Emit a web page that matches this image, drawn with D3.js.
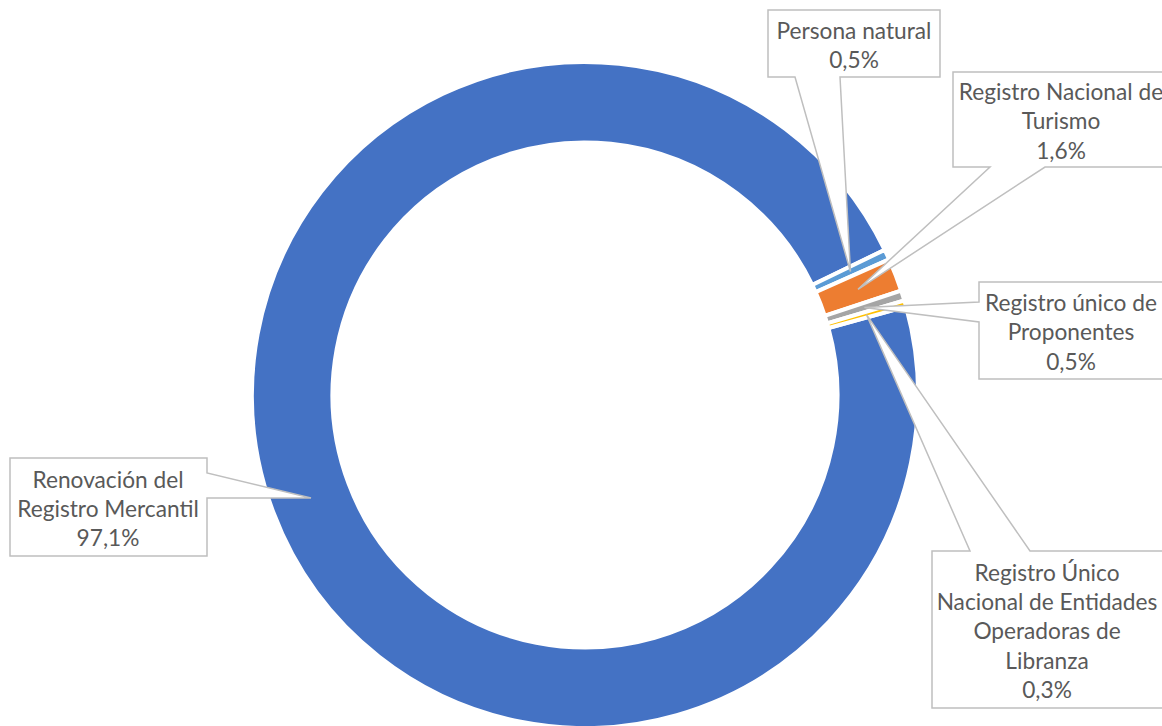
<!DOCTYPE html>
<html>
<head>
<meta charset="utf-8">
<script src="https://cdn.jsdelivr.net/npm/d3@7"></script>
<style>
  html, body { margin: 0; padding: 0; background: #fff; }
  svg { display: block; }
</style>
</head>
<body>
<svg id="chart" width="1162" height="726"></svg>
<script>
// ---- data ----
const categories = [
  "Renovación del Registro Mercantil",
  "Persona natural",
  "Registro Nacional de Turismo",
  "Registro único de Proponentes",
  "Registro Único Nacional de Entidades Operadoras de Libranza"
];
const values = [97.1, 0.5, 1.6, 0.5, 0.3];
const labelLines = [
  ["Renovación del", "Registro Mercantil"],
  ["Persona natural"],
  ["Registro Nacional de", "Turismo"],
  ["Registro único de", "Proponentes"],
  ["Registro Único", "Nacional de Entidades", "Operadoras de", "Libranza"]
];
const colors = ["#4472C4", "#5B9BD5", "#ED7D31", "#A5A5A5", "#FFC000"];

// ---- layout (annotation boxes, not data) ----
const calloutLayout = [
  { x: 10,  y: 458, w: 197, h: 98,  edge: "right",  b1: 473, b2: 498, tx: 108 },
  { x: 768, y: 10,  w: 172, h: 67,  edge: "bottom", b1: 795, b2: 840, tx: 854 },
  { x: 953, y: 72,  w: 250, h: 95,  edge: "bottom", b1: 990, b2: 1045, tx: 1061 },
  { x: 979, y: 282, w: 184, h: 97,  edge: "left",   b1: 302, b2: 322, tx: 1071 },
  { x: 932, y: 551, w: 232, h: 157, edge: "top",    b1: 970, b2: 1030, tx: 1047 }
];

const cx = 585, cy = 395, rOuter = 333, rInner = 252.5;
const startDeg = 74.6;

const svg = d3.select("#chart");
const g = svg.append("g").attr("transform", `translate(${cx},${cy})`);

const data = categories.map((c, i) => ({ name: c, value: values[i], i }));
const pie = d3.pie().value(d => d.value).sort(null)
  .startAngle(startDeg * Math.PI / 180)
  .endAngle(startDeg * Math.PI / 180 + 2 * Math.PI);
const arcs = pie(data);
const arc = d3.arc().innerRadius(rInner).outerRadius(rOuter);
const midArc = d3.arc().innerRadius((rInner + rOuter) / 2).outerRadius((rInner + rOuter) / 2);

g.selectAll("path.slice").data(arcs).enter().append("path")
  .attr("class", "slice")
  .attr("d", arc)
  .attr("fill", d => colors[d.data.i])
  .attr("stroke", "#fff")
  .attr("stroke-width", 4)
  .attr("stroke-linejoin", "miter");

const fmt = v => d3.format(".1f")(v).replace(".", ",") + "%";

function calloutPath(b, tip) {
  const x0 = b.x, y0 = b.y, x1 = b.x + b.w, y1 = b.y + b.h;
  const [tx, ty] = tip;
  let p;
  if (b.edge === "bottom") {
    p = [[x0,y0],[x1,y0],[x1,y1],[b.b2,y1],[tx,ty],[b.b1,y1],[x0,y1]];
  } else if (b.edge === "top") {
    p = [[x0,y0],[b.b1,y0],[tx,ty],[b.b2,y0],[x1,y0],[x1,y1],[x0,y1]];
  } else if (b.edge === "left") {
    p = [[x0,y0],[x1,y0],[x1,y1],[x0,y1],[x0,b.b2],[tx,ty],[x0,b.b1]];
  } else {
    p = [[x0,y0],[x1,y0],[x1,b.b1],[tx,ty],[x1,b.b2],[x1,y1],[x0,y1]];
  }
  return "M" + p.map(q => q.join(",")).join("L") + "Z";
}

const fs = 22.7, lh = 29.2;
const labels = svg.append("g");
arcs.forEach(a => {
  const i = a.data.i;
  const b = calloutLayout[i];
  const c = midArc.centroid(a);
  const tip = [c[0] + cx, c[1] + cy];
  labels.append("path")
    .attr("d", calloutPath(b, tip))
    .attr("fill", "#fff")
    .attr("stroke", "#BFBFBF")
    .attr("stroke-width", 1.5)
    .attr("stroke-linejoin", "miter");
  const lines = labelLines[i].concat([fmt(values[i])]);
  const midY = b.y + b.h / 2;
  const firstY = midY - (lines.length - 1) * lh / 2 + fs * 0.44;
  const t = labels.append("text")
    .attr("font-family", "Lato, 'Open Sans', sans-serif")
    .attr("font-size", fs)
    .attr("fill", "#595959")
    .attr("text-anchor", "middle");
  lines.forEach((ln, k) => {
    t.append("tspan").attr("x", b.tx).attr("y", firstY + k * lh).text(ln);
  });
});
</script>
</body>
</html>
